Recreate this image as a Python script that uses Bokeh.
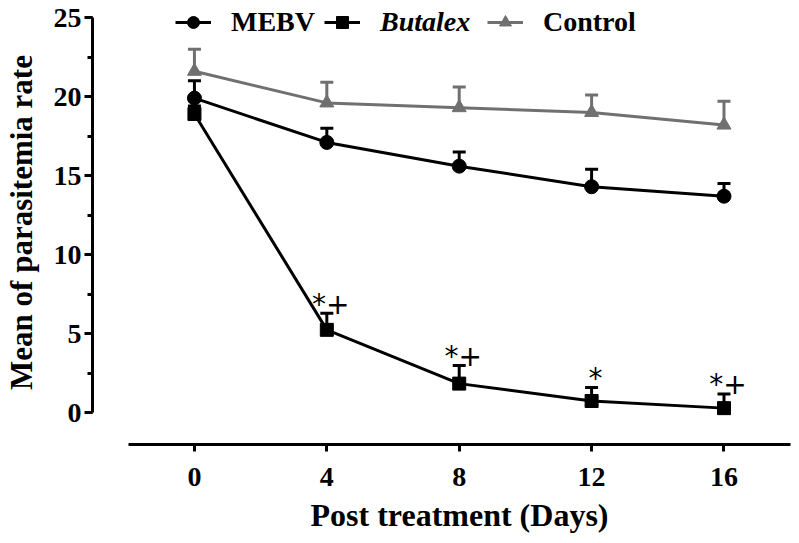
from bokeh.plotting import figure
from bokeh.models import (ColumnDataSource, Whisker, TeeHead, Legend, LegendItem,
                          FixedTicker, SingleIntervalTicker, Range1d, Title)
from bokeh.core.properties import value
from bokeh.embed import file_html
from bokeh.resources import INLINE

days = [0, 4, 8, 12, 16]
mebv = [19.9, 17.1, 15.6, 14.3, 13.7]
mebv_err_top = [21.0, 18.0, 16.5, 15.4, 14.5]
butalex = [18.9, 5.25, 1.85, 0.75, 0.3]
butalex_err_top = [19.4, 6.3, 3.0, 1.6, 1.2]
control = [21.6, 19.6, 19.3, 19.0, 18.2]
control_err_top = [23.0, 20.9, 20.6, 20.1, 19.7]
sig_days = [4, 8, 12, 16]
sig_marks = ["*+", "*+", "*", "*+"]
sig_y = [6.3, 3.0, 1.6, 1.2]
x_ticks = [0, 4, 8, 12, 16]

FONT = "Liberation Serif"
BLACK = "#000000"
GRAY = "#707070"

p = figure(frame_width=700, frame_height=444, output_backend="svg", toolbar_location=None,
           x_range=Range1d(-3.08, 18.07), y_range=Range1d(-2, 26.075),
           min_border_left=90, min_border_right=1, min_border_top=0, min_border_bottom=20)
p.outline_line_color = None
p.grid.visible = False
p.background_fill_color = "white"
p.border_fill_color = "white"

xa = p.xaxis[0]
xa.ticker = FixedTicker(ticks=x_ticks)
xa.bounds = (-2, 18)
xa.axis_line_width = 3
xa.axis_line_color = BLACK
xa.major_tick_line_width = 3
xa.major_tick_line_color = BLACK
xa.major_tick_out = 7
xa.major_tick_in = 0
xa.minor_tick_line_color = None
xa.major_label_text_font = FONT
xa.major_label_text_font_style = "bold"
xa.major_label_text_font_size = "28px"
xa.major_label_text_color = BLACK
xa.major_label_standoff = 16

p.add_layout(Title(text="Post treatment (Days)", align="left", offset=218, standoff=12,
                   text_font=FONT, text_font_style="bold", text_font_size="32px",
                   text_color=BLACK), "below")

ya = p.yaxis[0]
ya.ticker = SingleIntervalTicker(interval=5, num_minor_ticks=2)
ya.bounds = (0, 25)
ya.axis_line_width = 3
ya.axis_line_color = BLACK
ya.major_tick_line_width = 3
ya.major_tick_line_color = BLACK
ya.minor_tick_line_width = 3
ya.minor_tick_line_color = BLACK
ya.major_tick_out = 8
ya.major_tick_in = 0
ya.minor_tick_out = 5
ya.minor_tick_in = 0
ya.major_label_text_font = FONT
ya.major_label_text_font_style = "bold"
ya.major_label_text_font_size = "28px"
ya.major_label_text_color = BLACK
ya.major_label_standoff = 3
ya.axis_label = "Mean of parasitemia rate"
ya.axis_label_text_font = FONT
ya.axis_label_text_font_style = "bold"
ya.axis_label_text_font_size = "31px"
ya.axis_label_text_color = BLACK
ya.axis_label_standoff = 12


def add_err(top, vals, color):
    src = ColumnDataSource(dict(x=days, lo=vals, hi=top))
    w = Whisker(source=src, base="x", lower="lo", upper="hi", dimension="height",
                line_color=color, line_width=3,
                upper_head=TeeHead(size=13, line_color=color, line_width=3),
                lower_head=None)
    p.add_layout(w)


add_err(butalex_err_top, butalex, BLACK)
add_err(mebv_err_top, mebv, BLACK)
add_err(control_err_top, control, GRAY)

rb_l = p.line(days, butalex, line_color=BLACK, line_width=3)
rb_p = p.scatter(days, butalex, marker="square", size=13, color=BLACK)
rm_l = p.line(days, mebv, line_color=BLACK, line_width=3)
rm_p = p.scatter(days, mebv, marker="circle", size=14, color=BLACK)
rc_l = p.line(days, control, line_color=GRAY, line_width=3)
rc_p = p.scatter(days, control, marker="triangle", size=14, color=GRAY)

p.text(x=sig_days, y=sig_y, text=sig_marks, text_font=value("DejaVu Sans"),
       text_font_size="28px", text_align="center", text_baseline="middle",
       x_offset=4, y_offset=-9, text_color=BLACK)


def add_legend(label, renderers, x, style):
    lg = Legend(items=[LegendItem(label=label, renderers=renderers)], location=(x, 406),
                orientation="horizontal", glyph_width=36, glyph_height=30,
                label_standoff=20, padding=0, margin=0, spacing=0,
                border_line_color=None, background_fill_alpha=0,
                label_text_font=FONT, label_text_font_style=style,
                label_text_font_size="28px", label_text_color=BLACK)
    p.add_layout(lg)


add_legend("MEBV", [rm_l, rm_p], 83, "bold")
add_legend("Butalex", [rb_l, rb_p], 232, "bold italic")
add_legend("Control", [rc_l, rc_p], 395, "bold")

open("out.html", "w").write(file_html(p, INLINE))
